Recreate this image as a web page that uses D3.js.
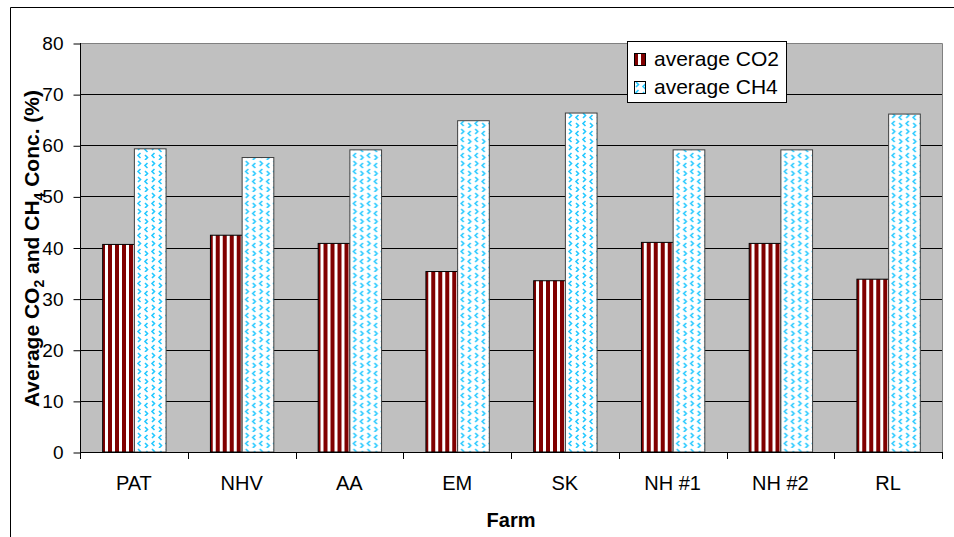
<!DOCTYPE html>
<html>
<head>
<meta charset="utf-8">
<script src="https://cdn.jsdelivr.net/npm/d3@7"></script>
<style>
  html, body { margin: 0; padding: 0; background: #fff; }
  svg { display: block; font-family: "Liberation Sans", Arial, sans-serif; }
</style>
</head>
<body>
<svg id="chart" width="954" height="537"></svg>
<script>
// ---- data ----
const categories = ["PAT", "NHV", "AA", "EM", "SK", "NH #1", "NH #2", "RL"];
const seriesNames = ["average CO2", "average CH4"];
const co2Values = [40.6, 42.4, 40.8, 35.3, 33.5, 41.0, 40.8, 33.8];
const ch4Values = [59.3, 57.6, 59.1, 64.8, 66.3, 59.1, 59.1, 66.1];
const yTicks = [0, 10, 20, 30, 40, 50, 60, 70, 80];

const svg = d3.select("#chart");
const W = 954, H = 537;
const plot = { left: 80, right: 942, top: 43, bottom: 452 };

// patterns
const defs = svg.append("defs");
const pCO2 = defs.append("pattern").attr("id", "pCO2")
  .attr("patternUnits", "userSpaceOnUse").attr("width", 7).attr("height", 7);
pCO2.append("rect").attr("width", 7).attr("height", 7).attr("fill", "#ffffff");
pCO2.append("rect").attr("x", 0).attr("width", 4).attr("height", 7).attr("fill", "#800000");

const pCH4 = defs.append("pattern").attr("id", "pCH4")
  .attr("patternUnits", "userSpaceOnUse").attr("width", 14).attr("height", 16);
pCH4.append("rect").attr("width", 14).attr("height", 16).attr("fill", "#ffffff");
const chev = (g, x, y, dir) => {
  g.append("path")
    .attr("d", dir > 0
      ? `M${x},${y} L${x + 2.5},${y + 2.5} L${x},${y + 5}`
      : `M${x + 2.5},${y} L${x},${y + 2.5} L${x + 2.5},${y + 5}`)
    .attr("fill", "none").attr("stroke", "#22c8ff").attr("stroke-width", 1.6);
};
chev(pCH4, 2, 1, 1);
chev(pCH4, 9, 3, -1);
chev(pCH4, 2, 9, -1);
chev(pCH4, 9, 11, 1);

// outer frame
svg.append("path").attr("d", `M10.5,${H} L10.5,7.5 L${W},7.5`)
  .attr("fill", "none").attr("stroke", "#000").attr("stroke-width", 1);

// scales
const x = d3.scaleBand().domain(categories).range([plot.left, plot.right]).padding(0);
const xSub = d3.scaleBand().domain(seriesNames).range([0, x.bandwidth()]).paddingInner(0).paddingOuter(0.7);
const y = d3.scaleLinear().domain([0, 80]).range([plot.bottom, plot.top]);

// plot background
svg.append("rect").attr("x", plot.left).attr("y", plot.top)
  .attr("width", plot.right - plot.left).attr("height", plot.bottom - plot.top)
  .attr("fill", "#c0c0c0");
// gray top / right border
svg.append("path").attr("d", `M${plot.left},${plot.top + 0.5} L${plot.right + 0.5},${plot.top + 0.5} L${plot.right + 0.5},${plot.bottom}`)
  .attr("fill", "none").attr("stroke", "#808080").attr("stroke-width", 1);

// gridlines
svg.append("g").selectAll("line").data(yTicks.filter(d => d > 0 && d < 80)).join("line")
  .attr("x1", plot.left).attr("x2", plot.right)
  .attr("y1", d => Math.round(y(d)) + 0.5).attr("y2", d => Math.round(y(d)) + 0.5)
  .attr("stroke", "#000").attr("stroke-width", 1);

// bars
const data = categories.map((c, i) => ({ cat: c, vals: [co2Values[i], ch4Values[i]] }));
const groups = svg.append("g").selectAll("g").data(data).join("g")
  .attr("transform", d => `translate(${x(d.cat)},0)`);
groups.selectAll("rect").data(d => d.vals.map((v, j) => ({ s: seriesNames[j], v, j })))
  .join("rect")
  .attr("x", d => xSub(d.s) + 0.5)
  .attr("y", d => y(d.v))
  .attr("width", xSub.bandwidth())
  .attr("height", d => y(0) - y(d.v))
  .attr("fill", d => d.j === 0 ? "url(#pCO2)" : "url(#pCH4)")
  .attr("stroke", d => d.j === 0 ? "#000" : "#404040")
  .attr("stroke-width", 1);

// y axis
const yAxis = d3.axisLeft(y).tickValues(yTicks).tickSize(7).tickPadding(10).tickFormat(d3.format("d"));
const gy = svg.append("g").attr("transform", `translate(${plot.left + 0.5},0.5)`).call(yAxis);
gy.select(".domain").attr("d", `M0,${plot.top - 0.5} V${plot.bottom + 6}`).attr("stroke", "#000");
gy.selectAll(".tick text").attr("font-size", 19).attr("fill", "#000")
  .attr("font-family", "Liberation Sans, Arial, sans-serif");
gy.selectAll(".tick line").attr("stroke", "#000");

// x axis line and boundary ticks
svg.append("line").attr("x1", plot.left).attr("x2", plot.right + 1)
  .attr("y1", plot.bottom + 0.5).attr("y2", plot.bottom + 0.5).attr("stroke", "#000");
const bounds = categories.map(c => x(c)).concat([plot.right]);
svg.append("g").selectAll("line").data(bounds).join("line")
  .attr("x1", d => Math.round(d) + 0.5).attr("x2", d => Math.round(d) + 0.5)
  .attr("y1", plot.bottom).attr("y2", plot.bottom + 7)
  .attr("stroke", "#000");
svg.append("g").selectAll("text").data(categories).join("text")
  .attr("x", d => x(d) + x.bandwidth() / 2)
  .attr("y", 490)
  .attr("text-anchor", "middle")
  .attr("font-size", 20)
  .attr("fill", "#000")
  .text(d => d);

// axis titles
svg.append("text").attr("x", 511).attr("y", 527).attr("text-anchor", "middle")
  .attr("font-size", 20).attr("font-weight", "bold").text("Farm");

const yt = svg.append("text")
  .attr("transform", `translate(39,${(87 + 410) / 2}) rotate(-90)`)
  .attr("text-anchor", "middle")
  .attr("font-size", 21).attr("font-weight", "bold");
yt.append("tspan").text("Average CO");
yt.append("tspan").attr("font-size", 14).attr("dy", 5).text("2");
yt.append("tspan").attr("dy", -5).text(" and CH");
yt.append("tspan").attr("font-size", 14).attr("dy", 5).text("4");
yt.append("tspan").attr("dy", -5).text(" Conc. (%)");

// legend
const lg = svg.append("g");
lg.append("rect").attr("x", 627.5).attr("y", 41.5).attr("width", 159).attr("height", 61)
  .attr("fill", "#fff").attr("stroke", "#000");
const items = lg.selectAll("g").data(seriesNames).join("g")
  .attr("transform", (d, i) => `translate(634,${53 + i * 28})`);
items.append("rect").attr("x", 0.5).attr("y", 0.5).attr("width", 11).attr("height", 12)
  .attr("fill", (d, i) => i === 0 ? "url(#pCO2)" : "url(#pCH4)")
  .attr("stroke", "#000");
items.append("text").attr("x", 20).attr("y", 13)
  .attr("font-size", 21).attr("fill", "#000").text(d => d);
</script>
</body>
</html>
